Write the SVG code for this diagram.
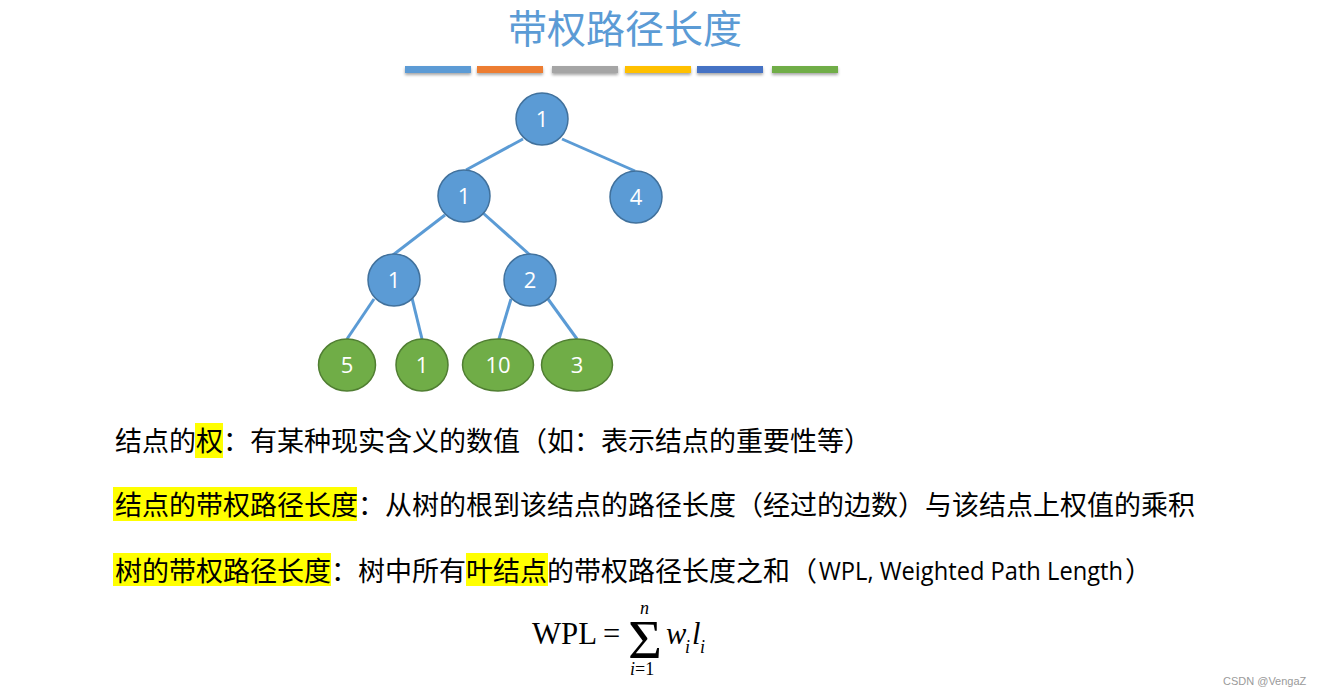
<svg xmlns="http://www.w3.org/2000/svg" width="1320" height="696" viewBox="0 0 1320 696">
<style>
.cjk{font-family:"Noto Sans CJK SC","Noto Sans",sans-serif;font-size:27px;fill:#000}
.title{font-family:"Noto Sans CJK SC",sans-serif;font-size:39px;fill:#5B9BD5}
.hl{fill:#FFFF00}
.edge{stroke:#5B9BD5;stroke-width:3;fill:none}
.inner{fill:#5B9BD5;stroke:#41719C;stroke-width:1.5}
.leaf{fill:#70AD47;stroke:#507E32;stroke-width:1.5}
.lbl{font-family:"Open Sans","Liberation Sans",sans-serif;font-size:22px;fill:#fff;text-anchor:middle}
.math{font-family:"Liberation Serif","DejaVu Serif",serif;fill:#000}
.it{font-style:italic}
</style>
<defs>
<filter id="sh" x="-10%" y="-50%" width="120%" height="250%">
<feDropShadow dx="0" dy="2" stdDeviation="1.5" flood-color="#000" flood-opacity="0.35"/>
</filter>
</defs>
<rect width="1320" height="696" fill="#fff"/>
<text class="title" x="508" y="43">带权路径长度</text>
<g id="bars" filter="url(#sh)">
<rect x="405" y="66" width="66" height="7" fill="#5B9BD5"/>
<rect x="477" y="66" width="66" height="7" fill="#ED7D31"/>
<rect x="552" y="66" width="66" height="7" fill="#A5A5A5"/>
<rect x="625" y="66" width="66" height="7" fill="#FFC000"/>
<rect x="697" y="66" width="66" height="7" fill="#4472C4"/>
<rect x="772" y="66" width="66" height="7" fill="#70AD47"/>
</g>
<g id="connectors">
<line class="edge" x1="523" y1="139" x2="466" y2="170"/>
<line class="edge" x1="562" y1="139" x2="635" y2="171"/>
<line class="edge" x1="445" y1="215" x2="393" y2="255"/>
<line class="edge" x1="483" y1="213" x2="530" y2="255"/>
<line class="edge" x1="374" y1="299" x2="347" y2="339"/>
<line class="edge" x1="412" y1="298" x2="422" y2="339"/>
<line class="edge" x1="511" y1="299" x2="499" y2="339"/>
<line class="edge" x1="548" y1="299" x2="577" y2="339"/>
</g>
<g id="n-root"><circle class="inner" cx="542" cy="119" r="26"/><text class="lbl" x="542" y="127">1</text></g>
<g id="n-l1"><circle class="inner" cx="464" cy="196" r="26"/><text class="lbl" x="464" y="204">1</text></g>
<g id="n-r4"><circle class="inner" cx="636" cy="197" r="26"/><text class="lbl" x="636" y="205">4</text></g>
<g id="n-ll1"><circle class="inner" cx="394" cy="280" r="26"/><text class="lbl" x="394" y="288">1</text></g>
<g id="n-lr2"><circle class="inner" cx="530" cy="280" r="26"/><text class="lbl" x="530" y="288">2</text></g>
<g id="leaf-5"><ellipse class="leaf" cx="347" cy="365" rx="28.5" ry="26"/><text class="lbl" x="347" y="373">5</text></g>
<g id="leaf-1"><ellipse class="leaf" cx="422" cy="365" rx="26" ry="26"/><text class="lbl" x="422" y="373">1</text></g>
<g id="leaf-10"><ellipse class="leaf" cx="498" cy="365" rx="35.5" ry="26"/><text class="lbl" x="498" y="373">10</text></g>
<g id="leaf-3"><ellipse class="leaf" cx="577" cy="365" rx="35.5" ry="26"/><text class="lbl" x="577" y="373">3</text></g>
<g id="highlights">
<rect class="hl" x="195" y="423" width="28" height="35"/>
<rect class="hl" x="113" y="487" width="244" height="34"/>
<rect class="hl" x="113" y="553" width="218" height="33"/>
<rect class="hl" x="466" y="553" width="82" height="33"/>
</g>
<text class="cjk" x="115" y="451" textLength="756" lengthAdjust="spacing">结点的权：有某种现实含义的数值（如：表示结点的重要性等）</text>
<text class="cjk" x="115" y="515" textLength="1080" lengthAdjust="spacing">结点的带权路径长度：从树的根到该结点的路径长度（经过的边数）与该结点上权值的乘积</text>
<text class="cjk" x="115" y="581" textLength="702" lengthAdjust="spacing">树的带权路径长度：树中所有叶结点的带权路径长度之和（</text>
<text x="819" y="580" font-family="Open Sans, Liberation Sans, sans-serif" font-size="25.5" textLength="304" lengthAdjust="spacingAndGlyphs">WPL, Weighted Path Length</text>
<text class="cjk" x="1125" y="581">）</text>
<g id="formula">
<text class="math" x="532" y="644" font-size="30.5" textLength="65" lengthAdjust="spacingAndGlyphs">WPL</text>
<text class="math" x="603" y="644" font-size="30.5">=</text>
<text class="math" x="628" y="658" font-size="54" textLength="34" lengthAdjust="spacingAndGlyphs">Σ</text>
<text class="math it" x="640" y="614" font-size="18">n</text>
<text class="math" x="630" y="675" font-size="18"><tspan class="it">i</tspan>=1</text>
<text class="math it" x="666" y="644" font-size="30.5">w</text>
<text class="math it" x="685" y="653" font-size="18">i</text>
<text class="math it" x="692" y="644" font-size="30.5">l</text>
<text class="math it" x="700" y="653" font-size="18">i</text>
</g>
<text x="1223" y="685" font-family="Liberation Sans, sans-serif" font-size="11" fill="#9a9a9a">CSDN @VengaZ</text>
</svg>
